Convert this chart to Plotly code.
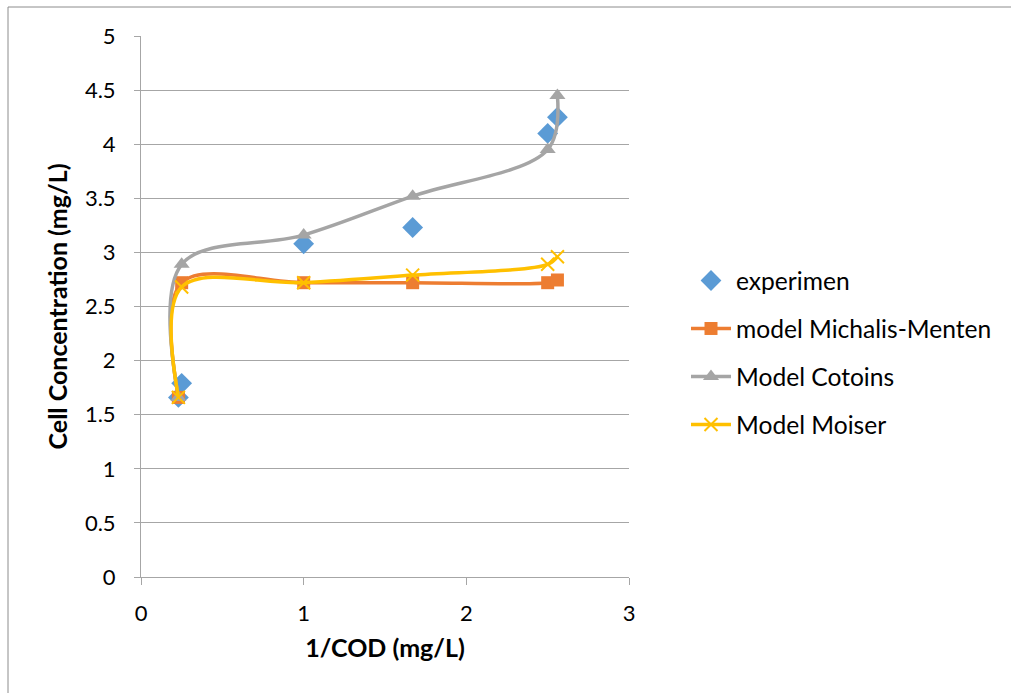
import plotly.graph_objects as go

x_vals = [0.23, 0.25, 1.0, 1.67, 2.5, 2.56]
experimen = [1.66, 1.79, 3.08, 3.23, 4.10, 4.25]
michaelis = [1.66, 2.72, 2.72, 2.72, 2.72, 2.745]
cotoins = [1.66, 2.89, 3.16, 3.52, 3.95, 4.45]
moiser = [1.66, 2.68, 2.72, 2.79, 2.89, 2.96]

FONT = "Lato"
fig = go.Figure()
fig.add_trace(go.Scatter(x=x_vals, y=experimen, mode="markers", name="experimen", legendgroup="a",
                         marker=dict(symbol="diamond", size=16, color="#5B9BD5")))
fig.add_trace(go.Scatter(x=x_vals, y=michaelis, mode="lines+markers", name="model Michalis-Menten", legendgroup="b",
                         line=dict(color="#ED7D31", width=3.5, shape="spline", smoothing=1),
                         marker=dict(symbol="square", size=13, color="#ED7D31")))
fig.add_trace(go.Scatter(x=x_vals, y=cotoins, mode="lines+markers", name="Model Cotoins", legendgroup="c",
                         line=dict(color="#A5A5A5", width=3.5, shape="spline", smoothing=1),
                         marker=dict(symbol="triangle-up", size=14, color="#A5A5A5")))
fig.add_trace(go.Scatter(x=x_vals, y=moiser, mode="lines+markers", name="Model Moiser", legendgroup="d",
                         line=dict(color="#FFC000", width=3.5, shape="spline", smoothing=1),
                         marker=dict(symbol="x-thin", size=13, color="#FFC000",
                                     line=dict(color="#FFC000", width=2))))

L, R, T, B = 141, 629, 36, 577
W, H = 1011, 693
pw, ph = R - L, B - T

def px(x):
    return (x - L) / pw

def py(y):
    return (B - y) / ph

fig.add_shape(type="rect", xref="paper", yref="paper",
              x0=px(8), x1=px(1300), y0=py(7), y1=py(800),
              line=dict(color="#8C8C8C", width=1), layer="below")

fig.update_layout(
    width=W, height=H,
    margin=dict(l=L, r=W - R, t=T, b=H - B),
    paper_bgcolor="white", plot_bgcolor="white",
    font=dict(family=FONT, color="#000000", size=22),
    legend=dict(x=px(686), y=py(258), xanchor="left", yanchor="top",
                font=dict(size=24.6, family=FONT), traceorder="grouped", tracegroupgap=13,
                itemwidth=40, bgcolor="rgba(0,0,0,0)"),
    xaxis=dict(range=[0, 3], tickvals=[0, 1, 2, 3], showgrid=False, zeroline=False,
               showline=True, linecolor="#A6A6A6", linewidth=1,
               ticks="outside", ticklen=7, tickcolor="#A6A6A6",
               ticklabelstandoff=10,
               tickfont=dict(size=22, family=FONT),
               title=dict(text="<b>1/COD (mg/L)</b>", font=dict(size=25, family=FONT), standoff=14)),
    yaxis=dict(range=[0, 5], dtick=0.5, showgrid=True, gridcolor="#A6A6A6", gridwidth=1,
               zeroline=False, showline=True, linecolor="#A6A6A6", linewidth=1,
               ticks="outside", ticklen=6, tickcolor="#A6A6A6",
               ticklabelstandoff=14,
               tickfont=dict(size=22, family=FONT),
               title=dict(text="<b>Cell Concentration (mg/L)</b>", font=dict(size=25, family=FONT), standoff=10)),
)

fig.write_html("out.html")
